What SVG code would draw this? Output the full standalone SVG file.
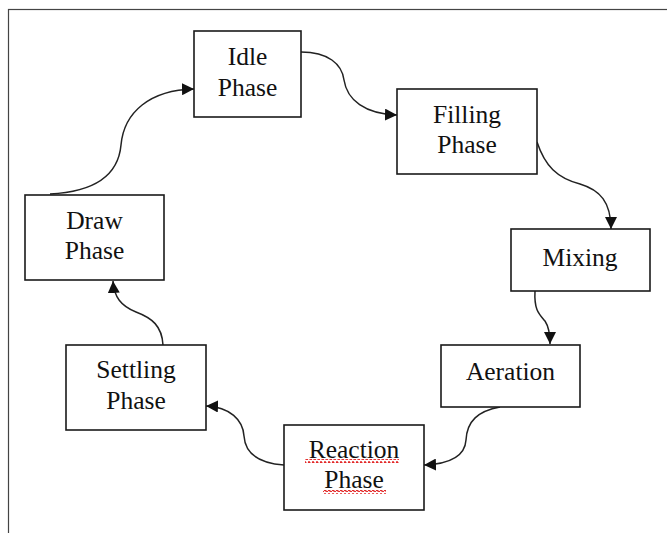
<svg xmlns="http://www.w3.org/2000/svg" width="667" height="533" viewBox="0 0 667 533">
<defs>
<style>
.box{fill:#fff;stroke:#1a1a1a;stroke-width:1.6}
.lbl{font-family:"Liberation Serif","Times New Roman",serif;font-size:25.5px;fill:#111;text-anchor:middle}
.con{fill:none;stroke:#222;stroke-width:1.5}
.wave{fill:url(#wave)}
</style>
<marker id="arr" viewBox="0 0 12 12" refX="12" refY="6" markerWidth="12" markerHeight="12" markerUnits="userSpaceOnUse" orient="auto">
<path d="M0,0 L12,6 L0,12 z" fill="#111"/>
</marker>
<pattern id="wave" x="0" y="0" width="4" height="4" patternUnits="userSpaceOnUse">
<path d="M0,3 Q1,0.5 2,3 T4,3" fill="none" stroke="#e01818" stroke-width="1.3"/>
</pattern>
</defs>
<rect width="667" height="533" fill="#fff"/>
<rect x="8.5" y="9.5" width="700" height="600" fill="none" stroke="#444" stroke-width="1.2"/>
<g id="connectors">
<path class="con" marker-end="url(#arr)" d="M50,194 C90,192 118,178 121,145 C124,112 150,90 194,89"/>
<path class="con" marker-end="url(#arr)" d="M301,52 C328,52 342,64 344,80 C347,100 365,114 397,115"/>
<path class="con" marker-end="url(#arr)" d="M537,142 C545,166 557,178 580,184 C600,190 611,202 611,229"/>
<path class="con" marker-end="url(#arr)" d="M535,291 C534,310 539,314 545,321 C549,327 550,333 550,344"/>
<path class="con" marker-end="url(#arr)" d="M500,407 C478,411 467,421 466,440 C465,456 450,464 424,465"/>
<path class="con" marker-end="url(#arr)" d="M284,465 C256,463 245,451 244,436 C243,420 230,407 206,406"/>
<path class="con" marker-end="url(#arr)" d="M163,345 C162,326 152,318 136,312 C121,306 114,297 113,281"/>
</g>
<g id="idle">
<rect class="box" x="194" y="31" width="107" height="86"/>
<text class="lbl" x="247.5" y="65">Idle</text>
<text class="lbl" x="247.5" y="96">Phase</text>
</g>
<g id="filling">
<rect class="box" x="397" y="89" width="140" height="85"/>
<text class="lbl" x="467" y="123">Filling</text>
<text class="lbl" x="467" y="153">Phase</text>
</g>
<g id="mixing">
<rect class="box" x="511" y="229" width="139" height="62"/>
<text class="lbl" x="580" y="266">Mixing</text>
</g>
<g id="aeration">
<rect class="box" x="441" y="345" width="139" height="62"/>
<text class="lbl" x="510.5" y="380">Aeration</text>
</g>
<g id="reaction">
<rect class="box" x="284" y="425" width="140" height="85"/>
<text class="lbl" x="354" y="458">Reaction</text>
<text class="lbl" x="354" y="488">Phase</text>
<rect class="wave" x="305" y="459" width="94" height="4"/>
<rect class="wave" x="323" y="490" width="63" height="4"/>
</g>
<g id="settling">
<rect class="box" x="66" y="345" width="140" height="85"/>
<text class="lbl" x="136" y="378">Settling</text>
<text class="lbl" x="136" y="409">Phase</text>
</g>
<g id="draw">
<rect class="box" x="25" y="195" width="139" height="85"/>
<text class="lbl" x="94.5" y="229">Draw</text>
<text class="lbl" x="94.5" y="259">Phase</text>
</g>
</svg>
